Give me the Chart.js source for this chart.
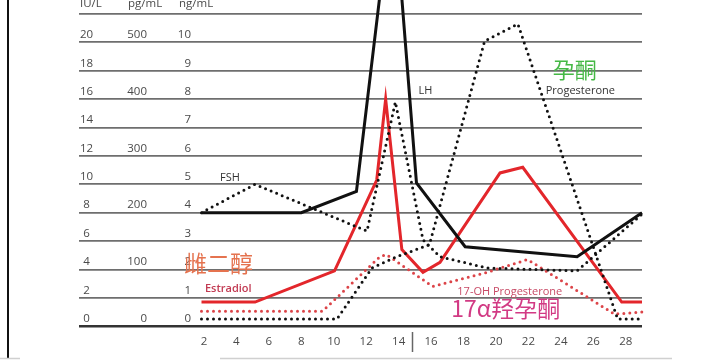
<!DOCTYPE html>
<html>
<head>
<meta charset="utf-8">
<script src="https://cdn.jsdelivr.net/npm/chart.js@4/dist/chart.umd.min.js"></script>
<style>
  html, body { margin: 0; padding: 0; background: #fff; }
  #wrap { width: 720px; height: 360px; }
</style>
</head>
<body>
<div id="wrap"><canvas id="chart" width="720" height="360"></canvas></div>
<script>
// cycle days on the bottom axis
const dayTicks = [2, 4, 6, 8, 10, 12, 14, 16, 18, 20, 22, 24, 26, 28];

// the three unit columns share the same gridlines
const levelTicks = [0, 2, 4, 6, 8, 10, 12, 14, 16, 18, 20];
const iuLabels = ['0', '2', '4', '6', '8', '10', '12', '14', '16', '18', '20'];
const pgLabels = ['0', '', '100', '', '200', '', '300', '', '400', '', '500'];
const ngLabels = ['0', '1', '2', '3', '4', '5', '6', '7', '8', '9', '10'];
const unitLabels = ['IU/L', 'pg/mL', 'ng/mL'];

// hormone curves, values on the IU/L scale
const lhDays = [1.85, 8, 11.4, 13.65, 15.1, 18.1, 25, 29];
const lhValues = [8, 8, 9.5, 31, 10.1, 5.6, 4.9, 8];

const fshDays = [1.85, 5.15, 12.05, 13.8, 15.5, 16.55, 19.45, 25, 29];
const fshValues = [8, 10, 6.7, 15.8, 6.1, 4.9, 4.1, 3.9, 7.9];

const estradiolDays = [1.85, 5.15, 10.05, 12.65, 13.2, 14.2, 15.5, 16.55, 20.25, 21.65, 27.75, 29];
const estradiolValues = [1.7, 1.7, 3.9, 10.3, 16, 5.4, 3.8, 4.5, 10.8, 11.2, 1.7, 1.7];

const progDays = [1.85, 10.2, 12.35, 13.9, 15.9, 19.3, 21.35, 27.5, 29];
const progValues = [0.5, 0.5, 4.1, 4.9, 5.75, 20.1, 21.3, 0.5, 0.5];

const ohProgDays = [1.85, 9.3, 12.85, 13.25, 16.1, 19.45, 21.95, 27.3, 29];
const ohProgValues = [1.05, 1.05, 4.9, 5.05, 2.8, 3.8, 4.7, 0.85, 1];

// text on the plot: [text, day, value, colour, font]
const notes = [
  ['FSH', 3.6, 10.45, '#333', '11px "Open Sans"'],
  ['LH', 15.65, 16.55, '#333', '11px "Open Sans"'],
  ['孕酮', 24.85, 18.05, '#45b845', '22px "Noto Sans CJK SC"'],
  ['Progesterone', 25.2, 16.6, '#333', '11px "Open Sans"'],
  ['雌二醇', 2.9, 4.4, '#e5734f', '23px "Noto Sans CJK SC"'],
  ['Estradiol', 3.5, 2.65, '#c23a52', '600 11px "Open Sans"'],
  ['17-OH Progesterone', 20.85, 2.45, '#c84a66', '11px "Open Sans"'],
  ['17α羟孕酮', 20.6, 1.25, '#d23a84', '23px "Noto Sans CJK SC"']
];

function points(days, values) {
  return days.map((d, i) => ({ x: d, y: values[i] }));
}

function solid(label, days, values, color) {
  return {
    label: label,
    data: points(days, values),
    borderColor: color,
    borderWidth: 3,
    pointRadius: 0,
    tension: 0,
    clip: false
  };
}

function dotted(label, days, values, color) {
  return {
    label: label,
    data: points(days, values),
    borderColor: color,
    borderWidth: 3,
    borderDash: [0, 6],
    borderCapStyle: 'round',
    pointRadius: 0,
    tension: 0,
    clip: false
  };
}

const extras = {
  id: 'extras',
  afterDatasetsDraw(chart) {
    const ctx = chart.ctx;
    const x = chart.scales.x;
    const y = chart.scales.y;
    ctx.save();

    // unit columns above each gridline
    ctx.font = '11.5px "Open Sans"';
    ctx.fillStyle = '#4a4a4a';
    ctx.textBaseline = 'middle';
    levelTicks.forEach((v, i) => {
      const py = y.getPixelForValue(v) - 7.5;
      ctx.textAlign = 'center';
      ctx.fillText(iuLabels[i], 86.5, py);
      ctx.textAlign = 'right';
      ctx.fillText(pgLabels[i], 147, py);
      ctx.fillText(ngLabels[i], 191, py);
    });
    const hy = y.getPixelForValue(22) - 10;
    ctx.textAlign = 'left';
    ctx.fillText(unitLabels[0], 80, hy);
    ctx.fillText(unitLabels[1], 128, hy);
    ctx.fillText(unitLabels[2], 179, hy);

    // annotations
    notes.forEach(n => {
      ctx.font = n[4];
      ctx.fillStyle = n[3];
      ctx.textAlign = 'center';
      ctx.fillText(n[0], x.getPixelForValue(n[1]), y.getPixelForValue(n[2]));
    });

    // small separator mark between 14 and 16
    ctx.strokeStyle = '#666';
    ctx.lineWidth = 1.5;
    const sx = Math.round(x.getPixelForValue(14.8)) + 0.5;
    ctx.beginPath();
    ctx.moveTo(sx, 332);
    ctx.lineTo(sx, 352);
    ctx.stroke();

    // frame line on the left, faint edge at the bottom
    ctx.strokeStyle = '#111';
    ctx.lineWidth = 2;
    ctx.beginPath();
    ctx.moveTo(8, 0);
    ctx.lineTo(8, 358);
    ctx.stroke();
    ctx.strokeStyle = '#d0d0d0';
    ctx.lineWidth = 1.5;
    ctx.beginPath();
    ctx.moveTo(0, 358.5);
    ctx.lineTo(20, 358.5);
    ctx.moveTo(220, 358.5);
    ctx.lineTo(672, 358.5);
    ctx.stroke();
    ctx.restore();
  }
};

new Chart(document.getElementById('chart'), {
  type: 'line',
  data: {
    datasets: [
      dotted('Progesterone', progDays, progValues, '#111'),
      dotted('FSH', fshDays, fshValues, '#111'),
      dotted('17-OH Progesterone', ohProgDays, ohProgValues, '#dc4448'),
      solid('LH', lhDays, lhValues, '#111'),
      solid('Estradiol', estradiolDays, estradiolValues, '#e3262b')
    ]
  },
  options: {
    responsive: false,
    animation: false,
    layout: { padding: { left: 79, right: 78, top: 14, bottom: 2 } },
    plugins: { legend: { display: false }, tooltip: { enabled: false } },
    scales: {
      x: {
        type: 'linear',
        min: -5.7,
        max: 29,
        afterBuildTicks: scale => { scale.ticks = dayTicks.map(v => ({ value: v })); },
        grid: { display: false, drawTicks: false },
        border: { display: false },
        ticks: { color: '#4a4a4a', font: { family: 'Open Sans', size: 11.5 }, padding: 9, maxRotation: 0, autoSkip: false }
      },
      y: {
        min: 0,
        max: 22,
        ticks: { display: false, stepSize: 2 },
        grid: {
          drawTicks: false,
          color: c => c.tick.value === 0 ? '#333' : '#6e6e6e',
          lineWidth: c => c.tick.value === 0 ? 2.5 : 1.8
        },
        border: { display: false }
      }
    }
  },
  plugins: [extras]
});
</script>
</body>
</html>
